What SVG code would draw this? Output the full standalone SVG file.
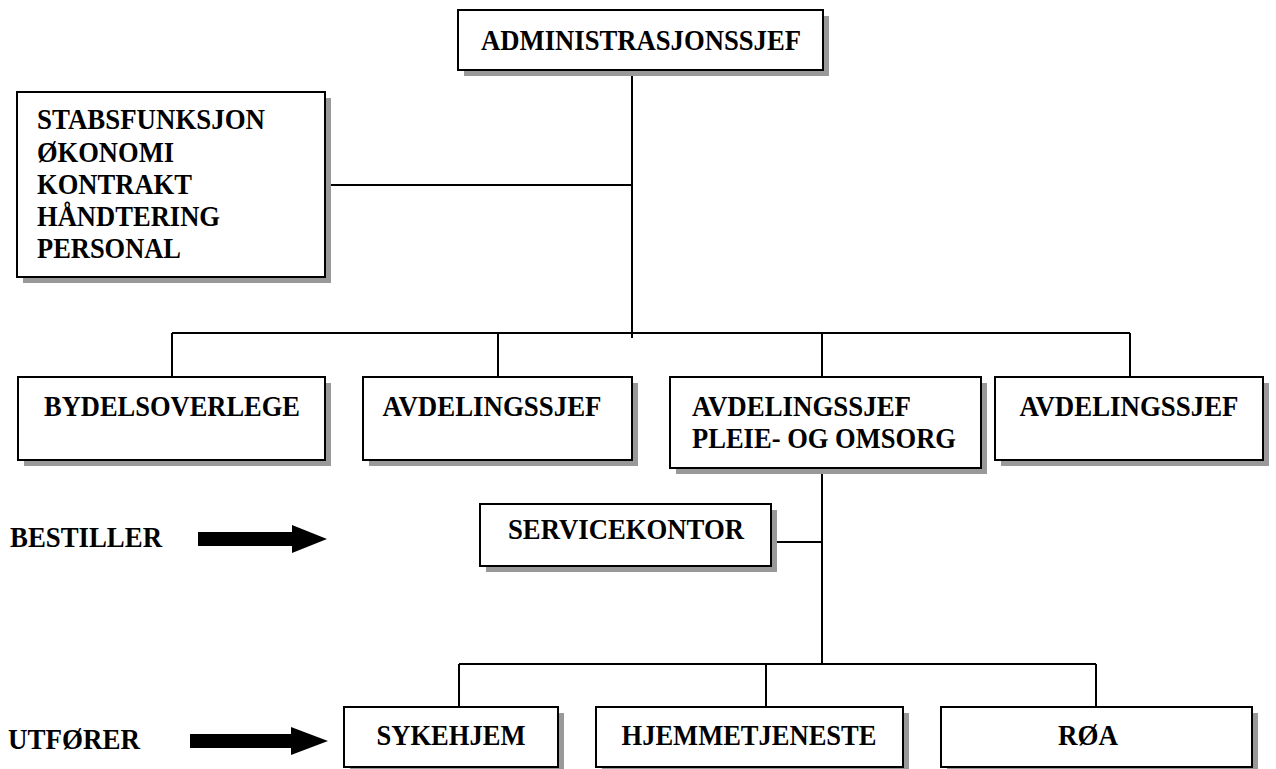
<svg xmlns="http://www.w3.org/2000/svg" width="1276" height="769" viewBox="0 0 1276 769">
<style>
.sh{fill:#999999;stroke:none}
.bx{fill:#ffffff;stroke:#000000;stroke-width:2}
.t{font-family:"Liberation Serif","Times New Roman",serif;font-weight:bold;font-size:29px;fill:#000000}
.m{text-anchor:middle}
.c{fill:none;stroke:#000000;stroke-width:2}
.ar{fill:#000000;stroke:none}
</style>
<rect width="1276" height="769" fill="#ffffff"/>
<g id="connectors">
<path class="c" d="M632 70V338M325 185H632M172 333H1130M172 333V377M498 333V377M822 333V377M1130 333V377"/>
<path class="c" d="M822 468V664M771 542H822M459 664H1096M459 664V707M766 664V707M1096 664V707"/>
</g>
<g id="n-admin">
<rect class="sh" x="464" y="16" width="365" height="60"/>
<rect class="bx" x="458" y="10" width="365" height="60"/>
<text class="t m" x="641" y="50" textLength="320" lengthAdjust="spacingAndGlyphs">ADMINISTRASJONSSJEF</text>
</g>
<g id="n-stab">
<rect class="sh" x="23" y="98" width="308" height="185"/>
<rect class="bx" x="17" y="92" width="308" height="185"/>
<text class="t" x="37" y="129" textLength="228" lengthAdjust="spacingAndGlyphs">STABSFUNKSJON</text>
<text class="t" x="37" y="162" textLength="137" lengthAdjust="spacingAndGlyphs">ØKONOMI</text>
<text class="t" x="37" y="194" textLength="155" lengthAdjust="spacingAndGlyphs">KONTRAKT</text>
<text class="t" x="37" y="226" textLength="183" lengthAdjust="spacingAndGlyphs">HÅNDTERING</text>
<text class="t" x="37" y="258" textLength="144" lengthAdjust="spacingAndGlyphs">PERSONAL</text>
</g>
<g id="n-bydel">
<rect class="sh" x="24" y="383" width="307" height="83"/>
<rect class="bx" x="18" y="377" width="307" height="83"/>
<text class="t m" x="172" y="416" textLength="256" lengthAdjust="spacingAndGlyphs">BYDELSOVERLEGE</text>
</g>
<g id="n-avd1">
<rect class="sh" x="369" y="383" width="269" height="83"/>
<rect class="bx" x="363" y="377" width="269" height="83"/>
<text class="t m" x="492" y="416" textLength="219" lengthAdjust="spacingAndGlyphs">AVDELINGSSJEF</text>
</g>
<g id="n-avd-pleie">
<rect class="sh" x="676" y="383" width="311" height="91"/>
<rect class="bx" x="670" y="377" width="311" height="91"/>
<text class="t" x="692" y="416" textLength="219" lengthAdjust="spacingAndGlyphs">AVDELINGSSJEF</text>
<text class="t" x="692" y="448" textLength="264" lengthAdjust="spacingAndGlyphs">PLEIE- OG OMSORG</text>
</g>
<g id="n-avd2">
<rect class="sh" x="1001" y="383" width="268" height="83"/>
<rect class="bx" x="995" y="377" width="268" height="83"/>
<text class="t m" x="1129" y="416" textLength="219" lengthAdjust="spacingAndGlyphs">AVDELINGSSJEF</text>
</g>
<g id="n-service">
<rect class="sh" x="486" y="510" width="291" height="62"/>
<rect class="bx" x="480" y="504" width="291" height="62"/>
<text class="t m" x="626" y="539" textLength="236" lengthAdjust="spacingAndGlyphs">SERVICEKONTOR</text>
</g>
<g id="n-sykehjem">
<rect class="sh" x="350" y="713" width="214" height="60"/>
<rect class="bx" x="344" y="707" width="214" height="60"/>
<text class="t m" x="451" y="745" textLength="149" lengthAdjust="spacingAndGlyphs">SYKEHJEM</text>
</g>
<g id="n-hjemme">
<rect class="sh" x="602" y="713" width="307" height="60"/>
<rect class="bx" x="596" y="707" width="307" height="60"/>
<text class="t m" x="749" y="745" textLength="255" lengthAdjust="spacingAndGlyphs">HJEMMETJENESTE</text>
</g>
<g id="n-roa">
<rect class="sh" x="947" y="713" width="311" height="60"/>
<rect class="bx" x="941" y="707" width="311" height="60"/>
<text class="t m" x="1088" y="745" textLength="60" lengthAdjust="spacingAndGlyphs">RØA</text>
</g>
<g id="lbl-bestiller">
<text class="t" x="10" y="547" textLength="152" lengthAdjust="spacingAndGlyphs">BESTILLER</text>
<polygon class="ar" points="198,532 292,532 292,525 327,539 292,553 292,546 198,546"/>
</g>
<g id="lbl-utforer">
<text class="t" x="8" y="749" textLength="132" lengthAdjust="spacingAndGlyphs">UTFØRER</text>
<polygon class="ar" points="190,734 291,734 291,727 328,741 291,755 291,748 190,748"/>
</g>
</svg>
